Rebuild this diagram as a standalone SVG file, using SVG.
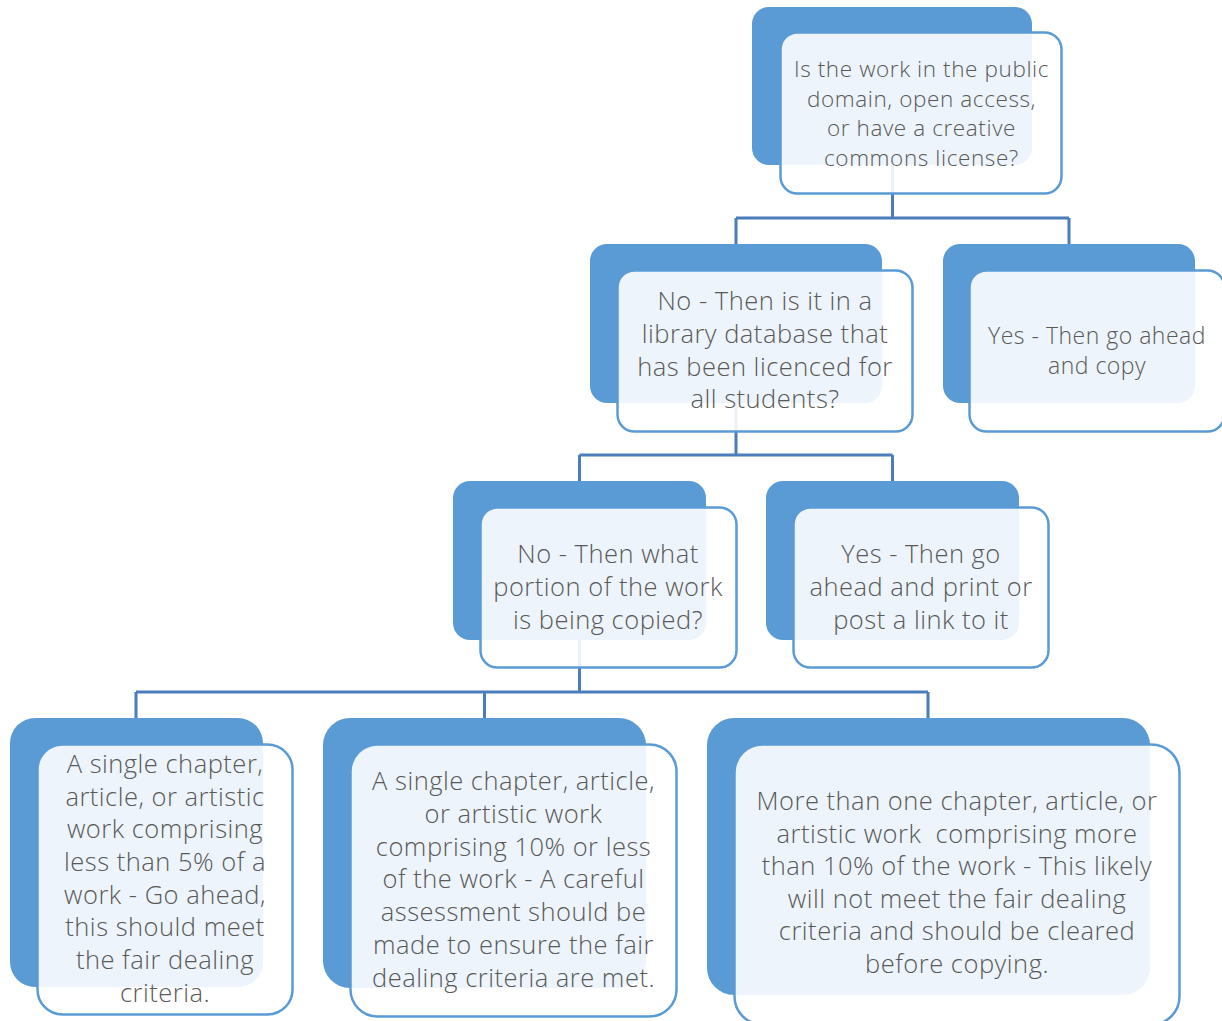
<svg xmlns="http://www.w3.org/2000/svg" width="1222" height="1021" viewBox="0 0 1222 1021">
<style>
.back{fill:#5B9BD5}
.front{fill:#FFFFFF;fill-opacity:0.89;stroke:#5B9BD5;stroke-width:2.5}
.conn{fill:none;stroke:#4A7DBA;stroke-width:3}
text{font-family:"Open Sans","Noto Sans","Liberation Sans",sans-serif;font-weight:300;fill:#595959;text-anchor:middle}
.t22{font-size:22.5px;letter-spacing:0.6px}
.t23{font-size:23px;letter-spacing:0.5px}
.t25{font-size:25.5px;letter-spacing:0.5px}
</style>
<rect width="1222" height="1021" fill="#FFFFFF"/>
<g id="connectors">
<path class="conn" d="M892.5,165 V218 M736,218 H1069 M736,218 V244 M1069,218 V244"/>
<path class="conn" d="M736,403 V455 M579.5,455 H892.5 M579.5,455 V481 M892.5,455 V481"/>
<path class="conn" d="M579.5,640 V692 M136,692 H928 M136,692 V718 M484.5,692 V718 M928,692 V718"/>
</g>
<g id="node1">
<rect class="back" x="752" y="7" width="280" height="158" rx="17"/>
<rect class="front" x="780.5" y="32.5" width="281" height="161" rx="17"/>
<text class="t22"><tspan x="921.5" y="77">Is the work in the public</tspan><tspan x="921.5" y="107">domain, open access,</tspan><tspan x="921.5" y="136">or have a creative</tspan><tspan x="921.5" y="166">commons license?</tspan></text>
</g>
<g id="node2">
<rect class="back" x="590" y="244" width="292" height="159" rx="17"/>
<rect class="front" x="617.5" y="270.5" width="295" height="161" rx="17"/>
<text class="t25"><tspan x="765" y="310">No - Then is it in a</tspan><tspan x="765" y="343">library database that</tspan><tspan x="765" y="376">has been licenced for</tspan><tspan x="765" y="408">all students?</tspan></text>
</g>
<g id="node3">
<rect class="back" x="943" y="244" width="252" height="159" rx="17"/>
<rect class="front" x="969.5" y="270.5" width="255" height="161" rx="17"/>
<text class="t23"><tspan x="1097" y="344">Yes - Then go ahead</tspan><tspan x="1097" y="374">and copy</tspan></text>
</g>
<g id="node4">
<rect class="back" x="453" y="481" width="253" height="159" rx="17"/>
<rect class="front" x="480.5" y="507.5" width="256" height="160" rx="17"/>
<text class="t25"><tspan x="608" y="563">No - Then what</tspan><tspan x="608" y="596">portion of the work</tspan><tspan x="608" y="629">is being copied?</tspan></text>
</g>
<g id="node5">
<rect class="back" x="766" y="481" width="253" height="159" rx="17"/>
<rect class="front" x="793.5" y="507.5" width="255" height="160" rx="17"/>
<text class="t25"><tspan x="921" y="563">Yes - Then go</tspan><tspan x="921" y="596">ahead and print or</tspan><tspan x="921" y="629">post a link to it</tspan></text>
</g>
<g id="node6">
<rect class="back" x="10" y="718" width="253" height="269" rx="25"/>
<rect class="front" x="37.5" y="744.5" width="255" height="270" rx="25"/>
<text class="t25"><tspan x="165" y="773">A single chapter,</tspan><tspan x="165" y="806">article, or artistic</tspan><tspan x="165" y="838">work comprising</tspan><tspan x="165" y="871">less than 5% of a</tspan><tspan x="165" y="904">work - Go ahead,</tspan><tspan x="165" y="936">this should meet</tspan><tspan x="165" y="969">the fair dealing</tspan><tspan x="165" y="1002">criteria.</tspan></text>
</g>
<g id="node7">
<rect class="back" x="323" y="718" width="323" height="270" rx="27"/>
<rect class="front" x="350.5" y="744.5" width="326" height="272" rx="27"/>
<text class="t25"><tspan x="513.5" y="790">A single chapter, article,</tspan><tspan x="513.5" y="823">or artistic work</tspan><tspan x="513.5" y="856">comprising 10% or less</tspan><tspan x="513.5" y="888">of the work - A careful</tspan><tspan x="513.5" y="921">assessment should be</tspan><tspan x="513.5" y="954">made to ensure the fair</tspan><tspan x="513.5" y="987">dealing criteria are met.</tspan></text>
</g>
<g id="node8">
<rect class="back" x="707" y="718" width="443" height="277" rx="27"/>
<rect class="front" x="734.5" y="744.5" width="445" height="280" rx="28"/>
<text class="t25" xml:space="preserve"><tspan x="957" y="810">More than one chapter, article, or</tspan><tspan x="957" y="843">artistic work  comprising more</tspan><tspan x="957" y="875">than 10% of the work - This likely</tspan><tspan x="957" y="908">will not meet the fair dealing</tspan><tspan x="957" y="940">criteria and should be cleared</tspan><tspan x="957" y="973">before copying.</tspan></text>
</g>
</svg>
